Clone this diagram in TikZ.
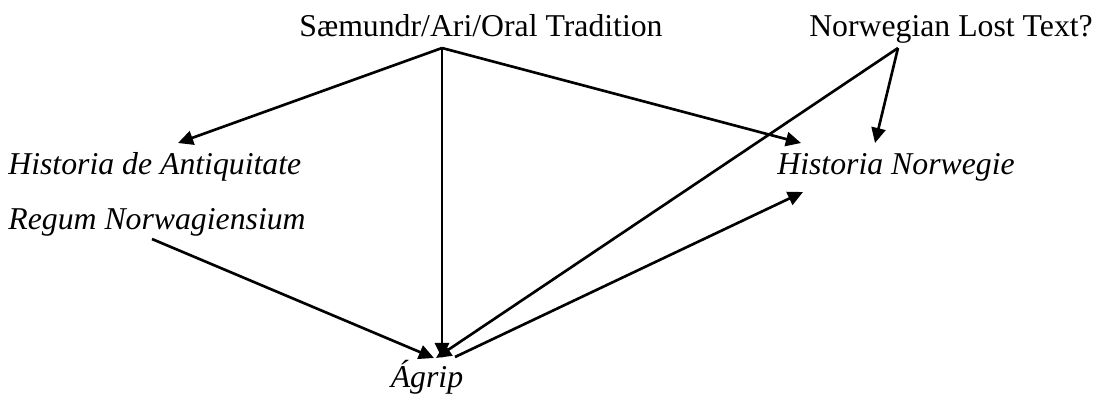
\documentclass[tikz,border=0pt]{standalone}
\usepackage{fontspec}
\setmainfont{Liberation Serif}
\usetikzlibrary{arrows.meta}

\begin{document}
\begin{tikzpicture}[x=0.529pt, y=-0.529pt, >={Triangle[length=8pt,width=7.5pt]},
      lbl/.style={inner sep=0pt, anchor=base,
                  font=\fontsize{16.8}{19}\selectfont},
      ttl/.style={lbl, font=\fontsize{16.8}{19}\selectfont\itshape},
      link/.style={->, line width=1.4pt}]
    \useasboundingbox (0,0) rectangle (1099,399);
    % sources
    \node[lbl] (trad) at (481,36) {Sæmundr/Ari/Oral Tradition};
    \node[lbl] (lost) at (951,36) {Norwegian Lost Text?};
    % texts
    \node[ttl, anchor=base west] (hda) at (8,174) {Historia de Antiquitate};
    \node[ttl, anchor=base west] (rn) at (8,229) {Regum Norwagiensium};
    \node[ttl, anchor=base west] (hn) at (777,174) {Historia Norwegie};
    \node[ttl] (agrip) at (427,387) {Ágrip};
    % connector ends
    \coordinate (trad-out) at (442,48);
    \coordinate (lost-out) at (898,48);
    \coordinate (rn-out) at (152,239);
    \coordinate (agrip-out) at (455,357);
    \coordinate (hda-in) at (178,143);
    \coordinate (hn-in1) at (801,143);
    \coordinate (hn-in2) at (875,143);
    \coordinate (hn-in3) at (803,192);
    \coordinate (agrip-in1) at (442,358);
    \coordinate (agrip-in2) at (436,358);
    \coordinate (agrip-in3) at (434,358);
    \draw[link] (trad-out) -- (hda-in);
    \draw[link] (trad-out) -- (agrip-in1);
    \draw[link] (trad-out) -- (hn-in1);
    \draw[link] (lost-out) -- (agrip-in2);
    \draw[link] (lost-out) -- (hn-in2);
    \draw[link] (rn-out) -- (agrip-in3);
    \draw[link] (agrip-out) -- (hn-in3);
  \end{tikzpicture}
\end{document}
